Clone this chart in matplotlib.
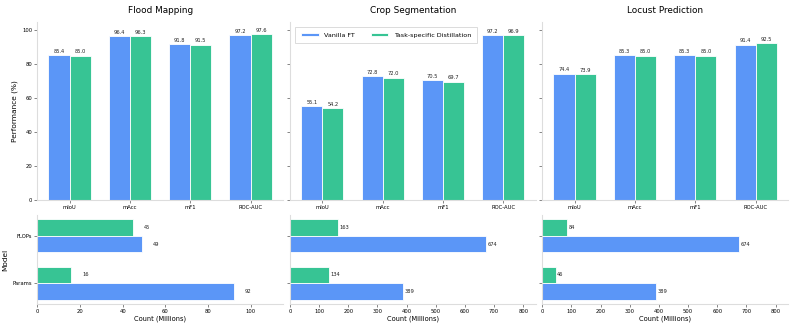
import numpy as np
import matplotlib
matplotlib.use("Agg")
import matplotlib.pyplot as plt

# ==========================================
# 1. Data
# ==========================================
tasks = ["Flood Mapping", "Crop Segmentation", "Locust Prediction"]
metrics = ["mIoU", "mAcc", "mF1", "ROC-AUC"]

vanilla_perf = [
    [85.4, 96.4, 91.8, 97.2],
    [55.1, 72.8, 70.5, 97.2],
    [74.4, 85.3, 85.3, 91.4],
]
distill_perf = [
    [85.0, 96.3, 91.5, 97.6],
    [54.2, 72.0, 69.7, 96.9],
    [73.9, 85.0, 85.0, 92.5],
]

cost_names = ["Params", "FLOPs"]
# order: Params, FLOPs
vanilla_cost = [[92, 49], [389, 674], [389, 674]]
distill_cost = [[16, 45], [134, 163], [46, 84]]

c_vanilla = "#5b96f7"
c_distill = "#37c494"
spine_c = "#dddddd"

# ==========================================
# 2. Figure layout
# ==========================================
fig = plt.figure(figsize=(7.93, 3.26), dpi=100)

lefts = [0.047, 0.3657, 0.6839]
w = 0.3097
top_axes = []
bot_axes = []
for i in range(3):
    ax = fig.add_axes([lefts[i], 0.3865, w, 0.547],
                      sharey=top_axes[0] if i > 0 else None)
    top_axes.append(ax)
    axb = fig.add_axes([lefts[i], 0.0675, w, 0.273])
    bot_axes.append(axb)


def style(ax):
    for s in ["top", "right"]:
        ax.spines[s].set_visible(False)
    for s in ["left", "bottom"]:
        ax.spines[s].set_color(spine_c)
        ax.spines[s].set_linewidth(0.8)
    ax.tick_params(length=2, width=0.5, color="#555555", labelsize=3.8, pad=1.5)


bw = 0.35
x = np.arange(len(metrics))

# ==========================================
# 3. Top row: performance bars
# ==========================================
for i, ax in enumerate(top_axes):
    style(ax)
    b1 = ax.bar(x - bw / 2, vanilla_perf[i], bw, color=c_vanilla,
                edgecolor="white", linewidth=0.6, label="Vanilla FT")
    b2 = ax.bar(x + bw / 2, distill_perf[i], bw, color=c_distill,
                edgecolor="white", linewidth=0.6, label="Task-specific Distillation")
    for bars in (b1, b2):
        for r in bars:
            ax.annotate(f"{r.get_height():.1f}",
                        (r.get_x() + r.get_width() / 2, r.get_height()),
                        xytext=(0, 1), textcoords="offset points",
                        ha="center", va="bottom", fontsize=3.7, color="#222222")
    ax.set_xticks(x)
    ax.set_xticklabels(metrics)
    ax.set_ylim(0, 105)
    ax.set_yticks(np.arange(0, 101, 20))
    ax.set_title(tasks[i], fontsize=6.4, pad=6)
    if i == 0:
        ax.set_ylabel("Performance (%)", fontsize=5.3, labelpad=3)
    else:
        ax.tick_params(labelleft=False)
    if i == 1:
        ax.legend(loc="upper left", ncol=2, fontsize=4.6, frameon=True,
                  edgecolor="#cccccc", fancybox=False, borderpad=0.9,
                  columnspacing=2.5, handlelength=2.8, handleheight=0.5,
                  borderaxespad=0.8).get_frame().set_linewidth(0.6)

# ==========================================
# 4. Bottom row: parameter / FLOPs counts
# ==========================================
y = np.arange(len(cost_names))
for i, ax in enumerate(bot_axes):
    style(ax)
    ax.barh(y - bw / 2, vanilla_cost[i], bw, color=c_vanilla,
            edgecolor="white", linewidth=0.6)
    ax.barh(y + bw / 2, distill_cost[i], bw, color=c_distill,
            edgecolor="white", linewidth=0.6)
    for j in range(len(cost_names)):
        ax.text(vanilla_cost[i][j] + 5, y[j] - bw / 2, str(vanilla_cost[i][j]),
                va="center", ha="left", fontsize=3.7, color="#222222")
        ax.text(distill_cost[i][j] + 5, y[j] + bw / 2, str(distill_cost[i][j]),
                va="center", ha="left", fontsize=3.7, color="#222222")
    xmax = max(vanilla_cost[i] + distill_cost[i]) * 1.25
    ax.set_xlim(0, xmax)
    if i == 0:
        ax.set_xticks(np.arange(0, 101, 20))
    else:
        ax.set_xticks(np.arange(0, 801, 100))
    ax.set_yticks(y)
    ax.set_xlabel("Count (Millions)", fontsize=4.8, labelpad=1.5)
    if i == 0:
        ax.set_yticklabels(cost_names)
        ax.set_ylabel("Model", fontsize=5.3, labelpad=3)
    else:
        ax.set_yticklabels([])

plt.savefig("out.png", dpi=100)
